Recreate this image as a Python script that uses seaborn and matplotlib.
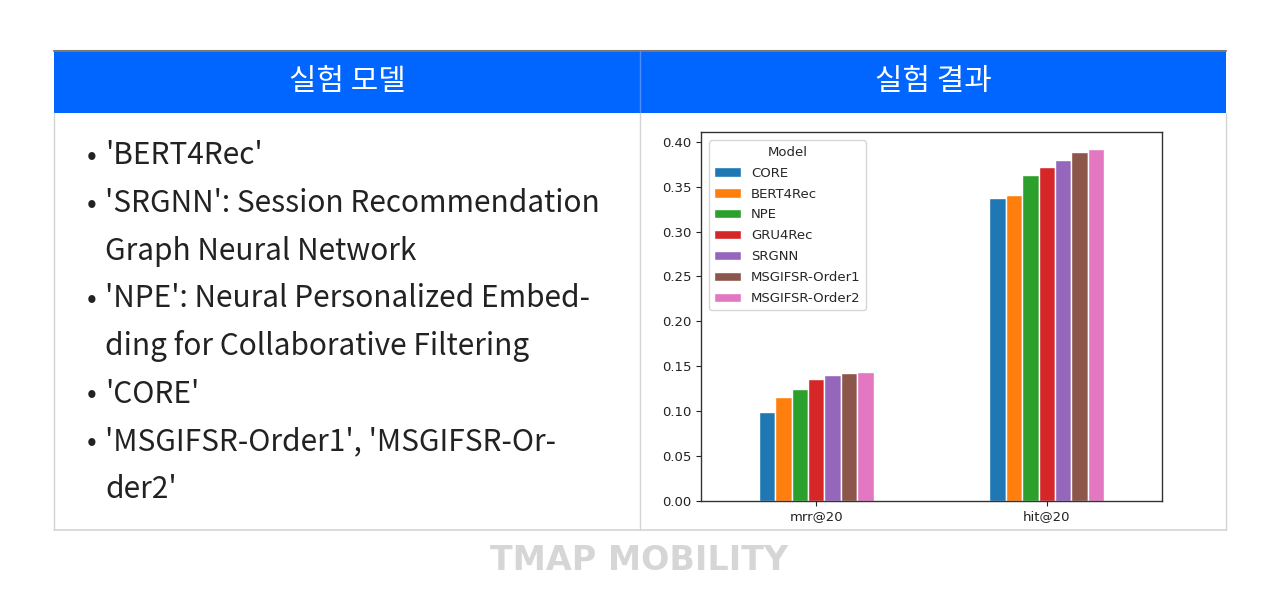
import numpy as np
import pandas as pd
import seaborn as sns
import matplotlib.pyplot as plt
from matplotlib.patches import Rectangle

# chart data
metrics = ['mrr@20', 'hit@20']
models = ['CORE', 'BERT4Rec', 'NPE', 'GRU4Rec', 'SRGNN', 'MSGIFSR-Order1', 'MSGIFSR-Order2']
mrr_values = [0.0992, 0.1159, 0.1248, 0.1356, 0.1404, 0.1422, 0.1434]
hit_values = [0.3369, 0.3413, 0.3636, 0.3725, 0.3796, 0.3892, 0.3915]

# table text
headers = ['실험 모델', '실험 결과']
bullet_lines = [
    ("'BERT4Rec'", True),
    ("'SRGNN': Session Recommendation", True),
    ("Graph Neural Network", False),
    ("'NPE': Neural Personalized Embed-", True),
    ("ding for Collaborative Filtering", False),
    ("'CORE'", True),
    ("'MSGIFSR-Order1', 'MSGIFSR-Or-", True),
    ("der2'", False),
]
footer = 'TMAP MOBILITY'

sns.set_style('ticks')
plt.rcParams['font.family'] = ['DejaVu Sans']
kr = ['Noto Sans CJK KR', 'DejaVu Sans']

fig = plt.figure(figsize=(12.8, 5.92), dpi=100)
fig.patch.set_facecolor('white')

# background axes in pixel coordinates
bg = fig.add_axes([0, 0, 1, 1])
bg.set_xlim(0, 1280)
bg.set_ylim(592, 0)
bg.axis('off')

blue = '#0165FF'
grid_c = '#d4d4d4'
bg.add_patch(Rectangle((54, 51), 1172, 62, facecolor=blue, edgecolor='none'))
bg.plot([54, 1226], [50.5, 50.5], color='#777777', lw=1.5)
bg.plot([640, 640], [51, 113], color='#4d8fff', lw=1)
bg.plot([54, 54], [113, 530], color=grid_c, lw=1)
bg.plot([1226, 1226], [113, 530], color=grid_c, lw=1)
bg.plot([640, 640], [113, 530], color=grid_c, lw=1)
bg.plot([54, 1226], [530, 530], color=grid_c, lw=1.2)

bg.text(347, 82, headers[0], color='white', fontsize=21.5, ha='center', va='center', family=kr)
bg.text(933, 82, headers[1], color='white', fontsize=21.5, ha='center', va='center', family=kr)

y = 156
for line, has_bullet in bullet_lines:
    if has_bullet:
        bg.text(92, y + 1, '•', color='#222222', fontsize=21, ha='center', va='center', family=kr)
    bg.text(105, y, line, color='#222222', fontsize=21.5, ha='left', va='center', family=kr)
    y += 47.6

bg.text(639, 561, footer, color='#d6d6d6', fontsize=24, ha='center', va='center',
        family=['DejaVu Sans'], fontweight='bold')

# bar chart
df = pd.DataFrame({
    'metric': np.repeat(metrics, len(models)),
    'Model': models * len(metrics),
    'value': mrr_values + hit_values,
})

ax = fig.add_axes([701 / 1280, 91.3 / 592, 461 / 1280, 368.7 / 592])
sns.barplot(data=df, x='metric', y='value', hue='Model', hue_order=models,
            palette=sns.color_palette('tab10', len(models)), saturation=1,
            width=0.5, ax=ax, legend=True)
ax.set_xlim(-0.5, 1.5)
ax.set_ylim(0, 0.411)
ax.set_yticks(np.arange(0, 0.41, 0.05))
ax.set_yticklabels([f'{v:.2f}' for v in np.arange(0, 0.41, 0.05)])
ax.set_xlabel('')
ax.set_ylabel('')
ax.tick_params(labelsize=9.5, colors='#222222')
for s in ax.spines.values():
    s.set_visible(True)
    s.set_color('#333333')
    s.set_linewidth(1)
sns.move_legend(ax, 'upper left', title='Model', fontsize=9.5, title_fontsize=9.5,
                frameon=True, bbox_to_anchor=(0.003, 0.995), labelspacing=0.6)

fig.savefig('out.png', dpi=100, facecolor='white')
